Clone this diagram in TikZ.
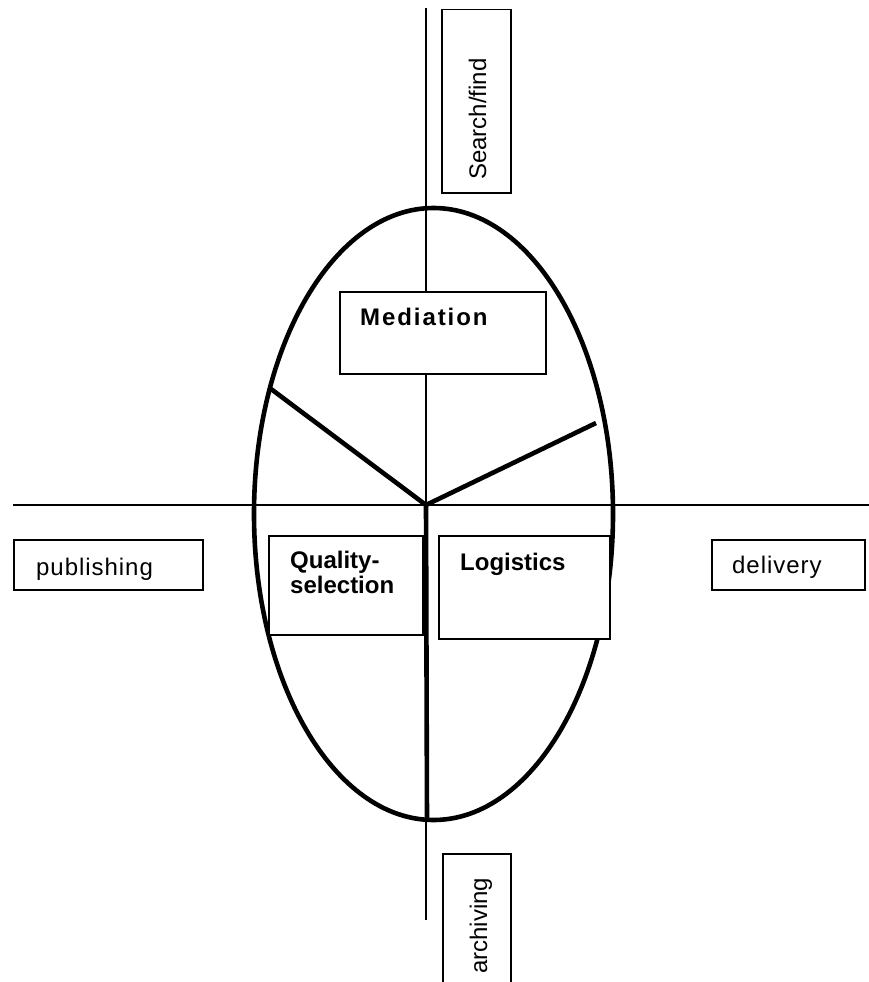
\documentclass[tikz,border=0pt]{standalone}
\usepackage{fontspec}
\setmainfont{Liberation Sans}
\usetikzlibrary{shapes.geometric}
\begin{document}
\begin{tikzpicture}[x=1pt,y=-1pt,
  thinline/.style={line width=1.6pt},
  thickline/.style={line width=4.6pt},
  boxframe/.style={draw,line width=1.5pt,fill=white,inner sep=0pt,anchor=north west},
  lbl/.style={font=\fontsize{24}{28}\selectfont, inner sep=0pt, anchor=base west},
  blbl/.style={inner sep=0pt, anchor=base west, font=\fontsize{24}{28}\selectfont\bfseries}]
\useasboundingbox (0,0) rectangle (869,982);
% axes
\coordinate (vtop) at (426,8);
\coordinate (vbot) at (426,920);
\coordinate (hleft) at (13,505);
\coordinate (hright) at (869,505);
\coordinate (hub) at (426,505);
\coordinate (spl) at (271,389);
\coordinate (spr) at (596,423);
\coordinate (spd) at (427,821);
\draw[thinline] (vtop) -- (vbot);
\draw[thinline] (hleft) -- (hright);
% ellipse
\node[ellipse, draw, line width=4.6pt, minimum width=359pt, minimum height=612pt, inner sep=0pt] (ell) at (433.5,514) {};
% spokes
\draw[thickline] (spl) -- (hub) -- (spr);
\draw[thickline] (hub) -- (spd);
% boxes
\node[boxframe, minimum width=69pt, minimum height=183pt] (search) at (441,9) {};
\node[boxframe, minimum width=206pt, minimum height=82pt] (med) at (339,291) {};
\node[boxframe, minimum width=154pt, minimum height=99pt] (qual) at (268,535) {};
\node[boxframe, minimum width=171pt, minimum height=103pt] (logi) at (438,535) {};
\node[boxframe, minimum width=189pt, minimum height=50pt] (pub) at (13,539) {};
\node[boxframe, minimum width=153pt, minimum height=50pt] (deliv) at (711,539) {};
\node[boxframe, minimum width=68pt, minimum height=140pt] (arch) at (442,853) {};
% labels
\node[lbl, rotate=90] (searcht) at (486,180) {Search/find};
\node[blbl] (medt) at (360,325) {\addfontfeatures{LetterSpace=8}Mediation};
\node[blbl] (qualt1) at (290,568) {Quality-};
\node[blbl] (qualt2) at (290,593) {selection};
\node[blbl] (logit) at (460,570) {Logistics};
\node[lbl] (pubt) at (36,575) {\addfontfeatures{LetterSpace=4}publishing};
\node[lbl] (delivt) at (732,573) {\addfontfeatures{LetterSpace=4}delivery};
\node[lbl, rotate=90] (archt) at (487,974) {archiving};
\end{tikzpicture}
\end{document}
